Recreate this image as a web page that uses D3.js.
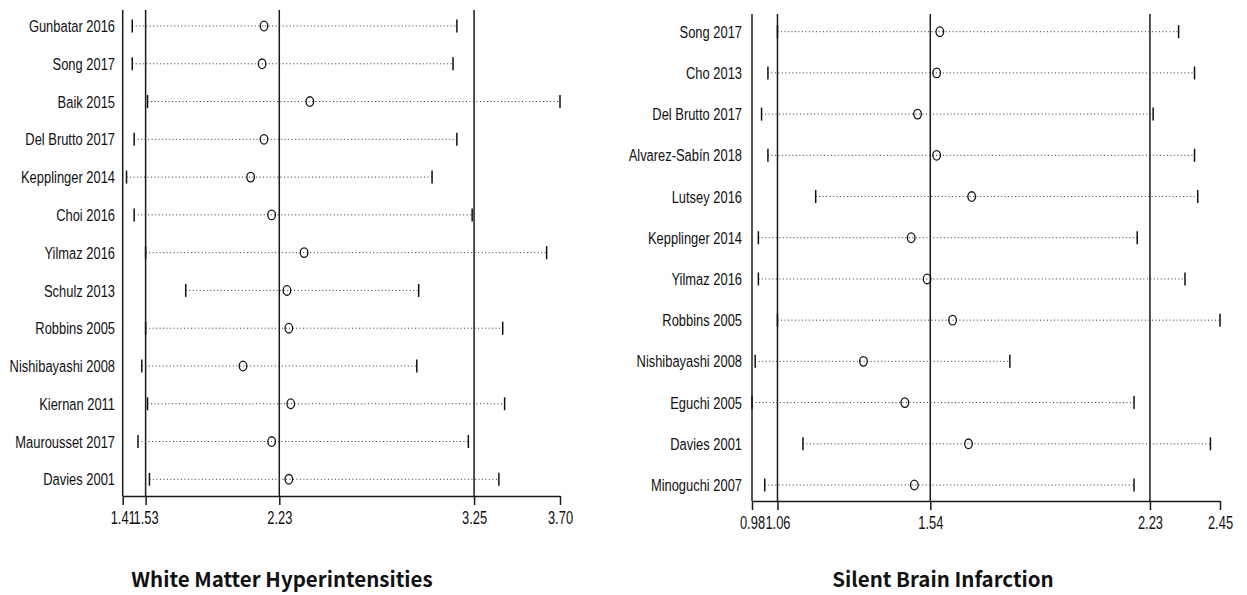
<!DOCTYPE html>
<html>
<head>
<meta charset="utf-8">
<script src="https://cdn.jsdelivr.net/npm/d3@7"></script>
<style>
  html, body { margin: 0; padding: 0; background: #fff; }
  svg { display: block; }
  .row-label, .tick text { font-family: "Liberation Sans", Arial, sans-serif; fill: #111; }
  .title { font-family: "Noto Sans CJK SC", "Noto Sans", sans-serif; font-weight: 700; fill: #111; }
</style>
</head>
<body>
<svg id="chart" width="1247" height="595"></svg>
<script>
// White matter hyperintensities: pooled estimate with each study omitted in turn
const wmhStudies = ["Gunbatar 2016", "Song 2017", "Baik 2015", "Del Brutto 2017", "Kepplinger 2014",
  "Choi 2016", "Yilmaz 2016", "Schulz 2013", "Robbins 2005", "Nishibayashi 2008",
  "Kiernan 2011", "Maurousset 2017", "Davies 2001"];
const wmhEst = [2.15, 2.14, 2.39, 2.15, 2.08, 2.19, 2.36, 2.27, 2.28, 2.04, 2.29, 2.19, 2.28];
const wmhLow = [1.46, 1.46, 1.54, 1.47, 1.43, 1.47, 1.53, 1.74, 1.53, 1.51, 1.54, 1.49, 1.55];
const wmhHigh = [3.16, 3.14, 3.70, 3.16, 3.03, 3.24, 3.63, 2.96, 3.40, 2.95, 3.41, 3.22, 3.38];
const wmhTicks = [1.41, 1.53, 2.23, 3.25, 3.70];
const wmhRefLines = [1.41, 1.53, 2.23, 3.25];

// Silent brain infarction: pooled estimate with each study omitted in turn
const sbiStudies = ["Song 2017", "Cho 2013", "Del Brutto 2017", "Alvarez-Sabín 2018", "Lutsey 2016",
  "Kepplinger 2014", "Yilmaz 2016", "Robbins 2005", "Nishibayashi 2008", "Eguchi 2005",
  "Davies 2001", "Minoguchi 2007"];
const sbiEst = [1.57, 1.56, 1.50, 1.56, 1.67, 1.48, 1.53, 1.61, 1.33, 1.46, 1.66, 1.49];
const sbiLow = [1.06, 1.03, 1.01, 1.03, 1.18, 1.00, 1.00, 1.06, 0.99, 0.98, 1.14, 1.02];
const sbiHigh = [2.32, 2.37, 2.24, 2.37, 2.38, 2.19, 2.34, 2.45, 1.79, 2.18, 2.42, 2.18];
const sbiTicks = [0.98, 1.06, 1.54, 2.23, 2.45];
const sbiRefLines = [0.98, 1.06, 1.54, 2.23];

const svg = d3.select("#chart");

function drawPanel(cfg) {
  const rows = cfg.studies.map((s, i) => ({ study: s, est: cfg.est[i], lo: cfg.low[i], hi: cfg.high[i] }));
  const x = d3.scaleLinear().domain(d3.extent(cfg.ticks)).range(cfg.xRange);
  const y = d3.scalePoint().domain(cfg.studies).range(cfg.yRange).padding(0);
  const g = svg.append("g");

  // full-height reference lines (frame, pooled CI limits, pooled estimate)
  g.selectAll("line.ref").data(cfg.refs).join("line")
    .attr("class", "ref")
    .attr("x1", d => x(d)).attr("x2", d => x(d))
    .attr("y1", cfg.top).attr("y2", cfg.axisY)
    .attr("stroke", "#1a1a1a").attr("stroke-width", 1.5);

  // x axis
  const axis = d3.axisBottom(x).tickValues(cfg.ticks).tickFormat(d3.format(".2f"))
    .tickSize(9).tickSizeOuter(0);
  const ag = g.append("g").attr("transform", `translate(0,${cfg.axisY})`).call(axis);
  ag.select(".domain").attr("stroke", "#1a1a1a").attr("stroke-width", 1.5);
  ag.selectAll(".tick line").attr("stroke", "#1a1a1a").attr("stroke-width", 1.5);
  ag.selectAll(".tick text").attr("x", 0).attr("y", 28).attr("dy", 0)
    .attr("transform", "scale(0.68,1)")
    .style("font-size", "19px").attr("fill", "#111");

  // dotted CI lines
  g.selectAll("line.ci").data(rows).join("line")
    .attr("class", "ci")
    .attr("x1", d => x(d.lo)).attr("x2", d => x(d.hi))
    .attr("y1", d => y(d.study)).attr("y2", d => y(d.study))
    .attr("stroke", "#333").attr("stroke-width", 1)
    .attr("stroke-dasharray", "1,2.5");

  // CI end caps
  const caps = rows.flatMap(d => [{ study: d.study, v: d.lo }, { study: d.study, v: d.hi }]);
  g.selectAll("line.cap").data(caps).join("line")
    .attr("class", "cap")
    .attr("x1", d => x(d.v)).attr("x2", d => x(d.v))
    .attr("y1", d => y(d.study) - 6.5).attr("y2", d => y(d.study) + 6.5)
    .attr("stroke", "#111").attr("stroke-width", 1.5);

  // point estimates
  g.selectAll("ellipse.est").data(rows).join("ellipse")
    .attr("class", "est")
    .attr("cx", d => x(d.est)).attr("cy", d => y(d.study))
    .attr("rx", 3.8).attr("ry", 4.8)
    .attr("fill", "none").attr("stroke", "#111").attr("stroke-width", 1.3);

  // study labels (condensed)
  g.selectAll("text.row-label").data(rows).join("text")
    .attr("class", "row-label")
    .attr("transform", d => `translate(${cfg.labelX},${y(d.study)}) scale(0.76,1)`)
    .attr("dy", "0.36em").attr("text-anchor", "end")
    .style("font-size", "17px")
    .text(d => d.study);

  // panel title
  g.append("text").attr("class", "title")
    .attr("x", cfg.titleX).attr("y", 587).attr("text-anchor", "middle")
    .style("font-size", "20.5px")
    .text(cfg.title);
}

drawPanel({
  studies: wmhStudies, est: wmhEst, low: wmhLow, high: wmhHigh,
  ticks: wmhTicks, refs: wmhRefLines,
  xRange: [122.7, 560], yRange: [26, 479.3], top: 10, axisY: 496,
  labelX: 115, titleX: 282, title: "White Matter Hyperintensities"
});

drawPanel({
  studies: sbiStudies, est: sbiEst, low: sbiLow, high: sbiHigh,
  ticks: sbiTicks, refs: sbiRefLines,
  xRange: [752, 1220], yRange: [31.7, 485], top: 14, axisY: 501,
  labelX: 742, titleX: 943, title: "Silent Brain Infarction"
});
</script>
</body>
</html>
